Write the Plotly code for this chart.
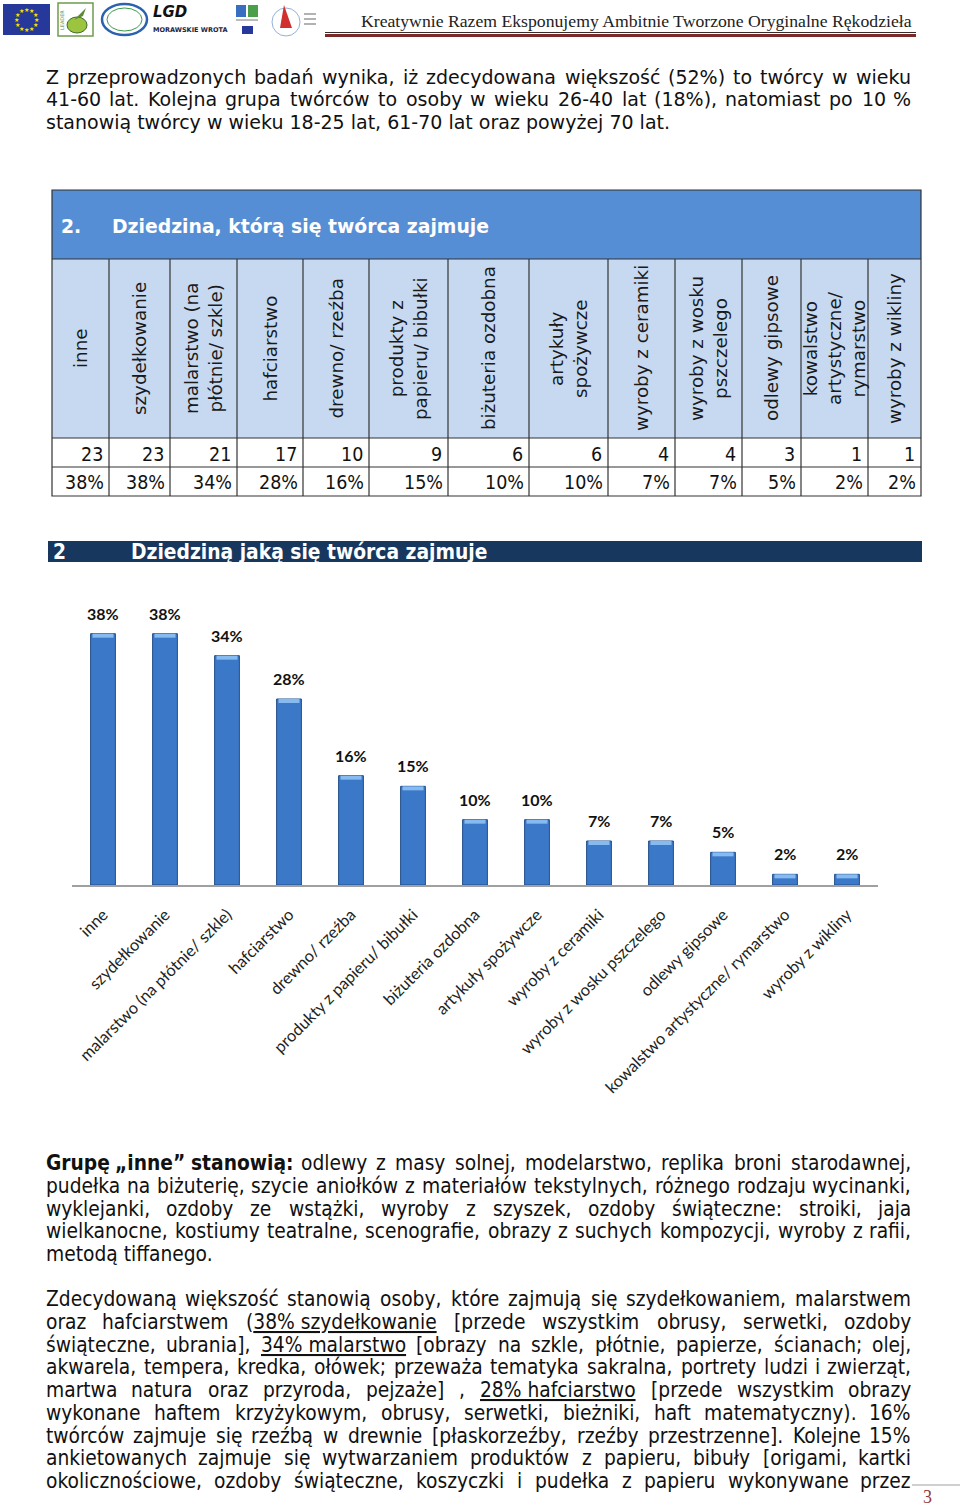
import re
import math
import plotly.graph_objects as go

W, H = 960, 1510

# ---------------- data ----------------
table_labels = ["inne", "szydełkowanie", "malarstwo (na<br>płótnie/ szkle)", "hafciarstwo",
                "drewno/ rzeźba", "produkty z<br>papieru/ bibułki", "biżuteria ozdobna",
                "artykuły<br>spożywcze", "wyroby z ceramiki", "wyroby z wosku<br>pszczelego",
                "odlewy gipsowe", "kowalstwo<br>artystyczne/<br>rymarstwo", "wyroby z wikliny"]
chart_labels = ["inne", "szydełkowanie", "malarstwo (na płótnie/ szkle)", "hafciarstwo",
                "drewno/ rzeźba", "produkty z papieru/ bibułki", "biżuteria ozdobna",
                "artykuły spożywcze", "wyroby z ceramiki", "wyroby z wosku pszczelego",
                "odlewy gipsowe", "kowalstwo artystyczne/ rymarstwo", "wyroby z wikliny"]
counts = [23, 23, 21, 17, 10, 9, 6, 6, 4, 4, 3, 1, 1]
pct_labels = ["38%", "38%", "34%", "28%", "16%", "15%", "10%", "10%", "7%", "7%", "5%", "2%", "2%"]
pct_values = [37.7, 37.7, 34.4, 27.9, 16.4, 14.8, 9.8, 9.8, 6.6, 6.6, 4.9, 1.6, 1.6]

header_title = "Kreatywnie Razem Eksponujemy Ambitnie Tworzone Oryginalne Rękodzieła"
table_title_num = "2."
table_title = "Dziedzina, którą się twórca zajmuje"
chart_title_num = "2"
chart_title = "Dziedziną jaką się twórca zajmuje"

p1_lines = [
    "Z przeprowadzonych badań wynika, iż zdecydowana większość (52%) to twórcy w wieku",
    "41-60 lat. Kolejna grupa twórców to osoby w wieku 26-40 lat (18%), natomiast po 10 %",
    "stanowią twórcy w wieku 18-25 lat, 61-70 lat oraz powyżej 70 lat.",
]
p2_lines = [
    "<b>Grupę</b> <b>„inne”</b> <b>stanowią:</b> odlewy z masy solnej, modelarstwo, replika broni starodawnej,",
    "pudełka na biżuterię, szycie aniołków z materiałów tekstylnych, różnego rodzaju wycinanki,",
    "wyklejanki, ozdoby ze wstążki, wyroby z szyszek, ozdoby świąteczne: stroiki, jaja",
    "wielkanocne, kostiumy teatralne, scenografie, obrazy z suchych kompozycji, wyroby z rafii,",
    "metodą tiffanego.",
]
p3_lines = [
    "Zdecydowaną większość stanowią osoby, które zajmują się szydełkowaniem, malarstwem",
    "oraz hafciarstwem (<u>38%~szydełkowanie</u> [przede wszystkim obrusy, serwetki, ozdoby",
    "świąteczne, ubrania], <u>34%~malarstwo</u> [obrazy na szkle, płótnie, papierze, ścianach; olej,",
    "akwarela, tempera, kredka, ołówek; przeważa tematyka sakralna, portrety ludzi i zwierząt,",
    "martwa natura oraz przyroda, pejzaże] , <u>28%~hafciarstwo</u> [przede wszystkim obrazy",
    "wykonane haftem krzyżykowym, obrusy, serwetki, bieżniki, haft matematyczny). 16%",
    "twórców zajmuje się rzeźbą w drewnie [płaskorzeźby, rzeźby przestrzenne]. Kolejne 15%",
    "ankietowanych zajmuje się wytwarzaniem produktów z papieru, bibuły [origami, kartki",
    "okolicznościowe, ozdoby świąteczne, koszyczki i pudełka z papieru wykonywane przez",
]

# ---------------- layout helpers ----------------
def X(px):
    return px / W

def Y(py):
    return 1 - py / H

shapes = []
annots = []

def rect(x0, y0, x1, y1, fill=None, line=None, lw=1, kind="rect"):
    shapes.append(dict(type=kind, xref="paper", yref="paper", x0=X(x0), x1=X(x1), y0=Y(y0), y1=Y(y1),
                       fillcolor=fill if fill else "rgba(0,0,0,0)",
                       line=dict(color=line if line else "rgba(0,0,0,0)", width=lw if line else 0),
                       layer="below" if fill and not line else "above"))

def hline(x0, x1, y, color, lw):
    shapes.append(dict(type="line", xref="paper", yref="paper", x0=X(x0), x1=X(x1), y0=Y(y), y1=Y(y),
                       line=dict(color=color, width=lw)))

def vline(x, y0, y1, color, lw):
    shapes.append(dict(type="line", xref="paper", yref="paper", x0=X(x), x1=X(x), y0=Y(y0), y1=Y(y1),
                       line=dict(color=color, width=lw)))

def path(d_px, fill=None, line=None, lw=1):
    s = ""
    for c in d_px:
        if c[0] == "Z":
            s += " Z"
        else:
            s += " %s %.5f,%.5f" % (c[0], X(c[1]), Y(c[2]))
    shapes.append(dict(type="path", xref="paper", yref="paper", path=s.strip(),
                       fillcolor=fill if fill else "rgba(0,0,0,0)",
                       line=dict(color=line if line else "rgba(0,0,0,0)", width=lw if line else 0)))

def text(x, y, t, size, color="#111", family="DejaVu Sans", xa="left", ya="middle", angle=0, align="left"):
    annots.append(dict(x=X(x), y=Y(y), xref="paper", yref="paper", text=t, showarrow=False,
                       xanchor=xa, yanchor=ya, textangle=angle, align=align,
                       font=dict(size=size, color=color, family=family), borderpad=0))

# ---------------- header ----------------
rect(3, 4, 50, 35, fill="#26399a")
for k in range(12):
    a = 2 * math.pi * k / 12
    text(26.5 + 10 * math.cos(a), 19.5 + 10 * math.sin(a), "★", 6, color="#ffdf00", xa="center")
rect(58, 3, 93, 36, fill="#ffffff", line="#6f9a4f", lw=1.5)
rect(67, 17, 87, 33, fill="#9cc43f", line="#3d6b2a", lw=1, kind="circle")
text(62, 20, "LEADER", 5, color="#5b8a3a", xa="center", angle=-90)
path([("M", 74, 20), ("L", 86, 8), ("L", 83, 16), ("Z",)], fill="#5b8a3a")
rect(102, 4, 147, 35, fill="#ffffff", line="#2a62b0", lw=2.5, kind="circle")
rect(107, 8, 142, 31, fill="#ffffff", line="#3a9a4a", lw=1, kind="circle")
for k in range(5):
    cx = 113 + k * 6
    rect(cx - 2.5, 11, cx + 2.5, 16, fill="#2a62b0", kind="circle")
    rect(cx - 2, 16, cx + 2, 26, fill="#2a62b0")
path([("M", 150, 27), ("Q", 178, 4), ("Q", 203, 20), ("Q", 214, 10), ("Q", 225, 22), ("L", 225, 27), ("Z",)],
     fill="#bfe3b4", line="#3c8c3c", lw=1.2)
path([("M", 152, 24), ("Q", 185, 32), ("Q", 214, 18)], line="#2a4a8a", lw=3)
text(152, 12, "<b><i>LGD</i></b>", 15, color="#111")
text(152, 30, "<b>MORAWSKIE WROTA</b>", 6.5, color="#1b2440")
rect(236, 5, 246, 17, fill="#3a6ec0")
rect(248, 5, 258, 17, fill="#4aa04a")
hline(236, 258, 20, "#777", 1)
rect(242, 26, 253, 34, fill="#26399a")
rect(272, 8, 300, 36, fill="#ffffff", line="#2a62b0", lw=0.5, kind="circle")
path([("M", 284, 5), ("L", 292, 28), ("L", 280, 28), ("Z",)], fill="#d03030")
path([("M", 274, 30), ("Q", 286, 38), ("Q", 299, 28)], line="#3a9a4a", lw=3)
for k in range(3):
    hline(304, 316, 14 + 5 * k, "#999", 1.5)
text(913, 21, header_title, 17.7, color="#222", family="Liberation Serif", xa="right")
hline(325, 916, 32.5, "#3a2a2a", 1)
hline(325, 916, 35.5, "#7b2a2a", 3)

# ---------------- paragraphs ----------------
CW = {' ': .318, '%': .950, '(': .390, ')': .390, ',': .318, '-': .361, '.': .318, '/': .337, ':': .337,
      ';': .337, '[': .390, ']': .390, '„': .518, '”': .518,
      'A': .684, 'B': .686, 'C': .698, 'D': .770, 'E': .632, 'F': .575, 'G': .775, 'H': .752, 'I': .295,
      'J': .295, 'K': .656, 'L': .557, 'M': .863, 'N': .748, 'O': .787, 'P': .603, 'R': .695, 'S': .635,
      'T': .611, 'U': .732, 'W': .989, 'Z': .685, 'Ś': .635,
      'a': .613, 'b': .635, 'c': .550, 'd': .635, 'e': .615, 'f': .352, 'g': .635, 'h': .634, 'i': .278,
      'j': .278, 'k': .579, 'l': .278, 'm': .974, 'n': .634, 'o': .612, 'p': .635, 'q': .635, 'r': .411,
      's': .521, 't': .392, 'u': .634, 'v': .592, 'w': .818, 'x': .592, 'y': .592, 'z': .525,
      'ą': .613, 'ć': .550, 'ę': .615, 'ł': .300, 'ń': .634, 'ó': .612, 'ś': .521, 'ź': .525, 'ż': .525}

TX0, TX1 = 45, 912

def est(tok, size, cond):
    bold = "<b>" in tok
    plain = re.sub(r"<[^>]+>", "", tok).replace("~", " ")
    w = sum(CW.get(ch, .636 if ch.isdigit() else .6) for ch in plain) * size * cond
    return w * (1.1 if bold else 1.0)

def render(tok):
    tok = tok.replace("~", " ")
    tok = tok.replace("<u>", '<span style="text-decoration:underline">').replace("</u>", "</span>")
    return tok

def is_last(lines, i):
    return (i == len(lines) - 1) and not lines[i].endswith("przez")

def fit_size(lines, base, cond):
    ratios = []
    for i, ln in enumerate(lines):
        if is_last(lines, i):
            continue
        toks = ln.split(" ")
        nat = sum(est(t, base, cond) for t in toks) + (len(toks) - 1) * CW[' '] * base * cond
        ratios.append((TX1 - TX0) / nat)
    return base * min(ratios) * 0.99

def paragraph(lines, y0, dy, size, family, cond):
    for i, ln in enumerate(lines):
        y = y0 + i * dy
        if is_last(lines, i):
            text(TX0, y, render(ln), size, color="#111", family=family)
            continue
        toks = ln.split(" ")
        ws = [est(t, size, cond) for t in toks]
        gap = (TX1 - TX0 - sum(ws)) / (len(toks) - 1)
        x = TX0
        for j, (t, w) in enumerate(zip(toks, ws)):
            if j == 0:
                text(x, y, render(t), size, color="#111", family=family, xa="left")
            elif j == len(toks) - 1:
                text(TX1, y, render(t), size, color="#111", family=family, xa="right")
            else:
                text(x + w / 2, y, render(t), size, color="#111", family=family, xa="center")
            x += w + gap

COND = "DejaVu Sans Condensed, DejaVu Sans"
paragraph(p1_lines, 77, 22.5, min(19, fit_size(p1_lines, 19, 1.0)), "DejaVu Sans", 1.0)
s23 = min(fit_size(p2_lines, 20, 0.9), fit_size(p3_lines, 20, 0.9))
paragraph(p2_lines, 1163, 22.75, s23, COND, 0.9)
paragraph(p3_lines, 1299, 22.75, s23, COND, 0.9)

# ---------------- table ----------------
col_edges = [52, 109, 170, 237, 303, 369, 448, 529, 608, 675, 742, 801, 868, 921]
T_TOP, T_BAND, T_HEAD, T_ROW1, T_BOT = 190, 259, 438, 467, 496
rect(col_edges[0], T_TOP, col_edges[-1], T_BAND, fill="#558ed5")
rect(col_edges[0], T_BAND, col_edges[-1], T_HEAD, fill="#c6d9f1")
for yy in (T_BAND, T_HEAD, T_ROW1):
    hline(col_edges[0], col_edges[-1], yy, "#333", 1.2)
for xx in col_edges[1:-1]:
    vline(xx, T_BAND, T_BOT, "#333", 1.2)
rect(col_edges[0], T_TOP, col_edges[-1], T_BOT, line="#333", lw=1.2)
text(60, 226, "<b>" + table_title_num + "</b>", 18.8, color="#ffffff")
text(111, 226, "<b>" + table_title + "</b>", 18.8, color="#ffffff")
for i, lab in enumerate(table_labels):
    cx = (col_edges[i] + col_edges[i + 1]) / 2
    text(cx, (T_BAND + T_HEAD) / 2, lab, 18.3, color="#1a1a1a", xa="center", angle=-90, align="center")
    text(col_edges[i + 1] - 5, (T_HEAD + T_ROW1) / 2 + 2, str(counts[i]), 19.5, color="#111",
         family=COND, xa="right")
    text(col_edges[i + 1] - 4, (T_ROW1 + T_BOT) / 2 + 1, pct_labels[i], 19.5, color="#111",
         family=COND, xa="right")

# ---------------- chart title bar ----------------
rect(48, 541, 922, 562, fill="#17375e")
text(52, 551.5, "<b>" + chart_title_num + "</b>", 20.8, color="#ffffff", family=COND)
text(130, 551.5, "<b>" + chart_title + "</b>", 20.8, color="#ffffff", family=COND)

# ---------------- page number ----------------
hline(912, 960, 1485, "#a0a0a0", 1)
text(927, 1497, "3", 18, color="#943634", family="Liberation Serif", xa="center")

# ---------------- bar chart ----------------
BEVEL = 0.6
fig = go.Figure()
fig.add_trace(go.Bar(x=chart_labels, y=pct_values, width=0.4,
                     marker=dict(color="#3b78c8", line=dict(color="#234f8c", width=1)),
                     hoverinfo="skip"))
fig.add_trace(go.Bar(x=chart_labels, y=[BEVEL] * len(pct_values),
                     base=[v - BEVEL for v in pct_values], width=0.34,
                     marker=dict(color="#86bbf2", line=dict(width=0)), hoverinfo="skip"))
for lab, v, t in zip(chart_labels, pct_values, pct_labels):
    annots.append(dict(x=lab, y=v, xref="x", yref="y", text="<b>" + t + "</b>", showarrow=False,
                       yanchor="bottom", xanchor="center", yshift=9,
                       font=dict(family="Lato", size=16, color="#111")))

fig.update_layout(
    width=W, height=H, margin=dict(l=0, r=0, t=0, b=0),
    paper_bgcolor="#ffffff", plot_bgcolor="rgba(0,0,0,0)",
    showlegend=False, barmode="overlay",
    shapes=shapes, annotations=annots,
    xaxis=dict(domain=[X(72), X(878)], type="category", range=[-0.5, 12.5],
               showline=True, linecolor="#a0a0a0", linewidth=1.5, ticks="", showgrid=False,
               tickangle=-45, ticklabelstandoff=12,
               tickfont=dict(family="Lato", size=16.4, color="#222")),
    yaxis=dict(domain=[Y(885), Y(585)], range=[0, 45], visible=False),
)
fig.write_html("out.html", config={"displayModeBar": False},
               post_script="document.body.style.margin='0';document.body.style.overflow='hidden';")
